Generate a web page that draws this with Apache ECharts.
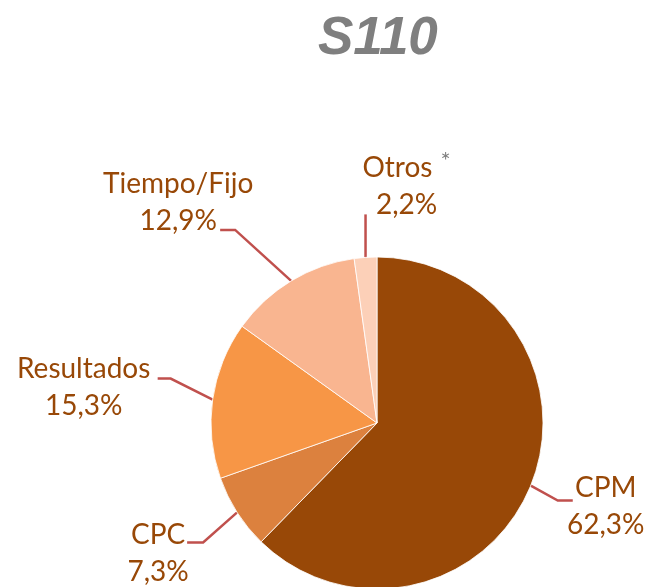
<!DOCTYPE html>
<html>
<head>
<meta charset="utf-8">
<script src="https://cdn.jsdelivr.net/npm/echarts@6/dist/echarts.min.js"></script>
<style>
html, body { margin: 0; padding: 0; background: #fff; }
#main { width: 650px; height: 587px; }
</style>
</head>
<body>
<div id="main"></div>
<script>
// datos
const categories = ['CPM', 'CPC', 'Resultados', 'Tiempo/Fijo', 'Otros'];
const shares = [62.3, 7.3, 15.3, 12.9, 2.2];
const footnoted = ['Otros'];

// estilo de cada porción
const sliceColors = ['#984807', '#DC813E', '#F79646', '#F9B590', '#FCD0B8'];
// guía de etiquetas: codo relativo al borde, cola horizontal, centro del texto relativo al final
const bends = [[27, 15], [-34, 30], [-42, -21], [-56, -51], [0, -43]];
const tails = [15, -16, -13, -15, 0];
const textOffsets = [[33, 6], [-29, 11], [-74, 9], [-42, -27], [41, -28]];

const fmtPct = v => v.toFixed(1).replace('.', ',') + '%';

let myChart = echarts.init(document.getElementById('main'));
myChart.setOption({
  animation: false,
  backgroundColor: '#fff',
  title: {
    text: 'S110',
    left: 313,
    top: 8,
    textStyle: {
      fontFamily: 'Liberation Sans',
      fontStyle: 'italic',
      fontWeight: 'bold',
      fontSize: 53,
      color: '#7F7F7F'
    }
  },
  series: [
    {
      type: 'pie',
      center: [377, 423],
      radius: 166,
      startAngle: 90,
      clockwise: true,
      avoidLabelOverlap: false,
      data: categories.map((name, i) => ({
        name: name,
        value: shares[i],
        itemStyle: { color: sliceColors[i] }
      })),
      itemStyle: { borderColor: '#fff', borderWidth: 0.8 },
      emphasis: { disabled: true },
      label: {
        show: true,
        position: 'outside',
        fontFamily: 'Lato',
        fontSize: 28,
        lineHeight: 37,
        color: '#984807',
        formatter: function (p) {
          let star = footnoted.indexOf(p.name) >= 0 ? '{s|*}' : '';
          return '{t|' + p.name + '}' + star + '\n{t|' + fmtPct(p.value) + '}';
        },
        rich: {
          t: { fontFamily: 'Lato', fontSize: 28, lineHeight: 37, color: '#984807' },
          s: { fontFamily: 'Lato', fontSize: 24, lineHeight: 37, color: '#808080', verticalAlign: 'top', padding: [0, 0, 0, 8] }
        }
      },
      labelLine: {
        show: true,
        length: 20,
        length2: 10,
        lineStyle: { color: '#C0504D', width: 2.5 }
      },
      labelLayout: function (params) {
        let i = params.dataIndex;
        let p0 = params.labelLinePoints[0];
        let p1 = [p0[0] + bends[i][0], p0[1] + bends[i][1]];
        let p2 = [p1[0] + tails[i], p1[1]];
        return {
          x: p2[0] + textOffsets[i][0],
          y: p2[1] + textOffsets[i][1],
          align: 'center',
          verticalAlign: 'middle',
          labelLinePoints: [p0, p1, p2]
        };
      }
    }
  ]
});
</script>
</body>
</html>
